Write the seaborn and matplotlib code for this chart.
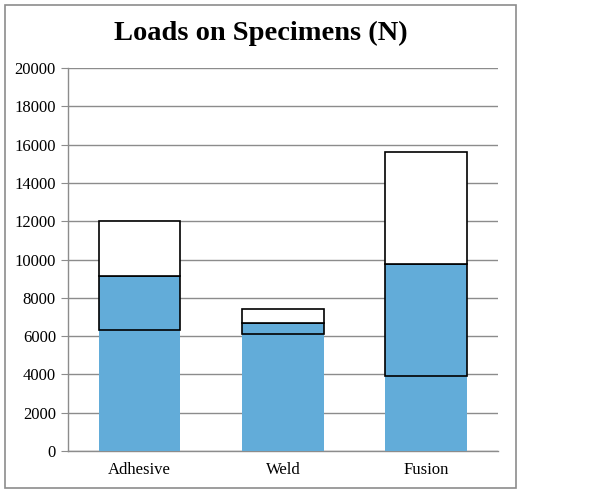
import matplotlib
matplotlib.use("Agg")
import matplotlib.pyplot as plt
import seaborn as sns
import pandas as pd
from matplotlib.patches import Rectangle

specimens = ["Adhesive", "Weld", "Fusion"]
base_load = [6300, 6100, 3900]
mid_load = [2850, 610, 5850]
top_load = [2850, 690, 5850]

df = pd.DataFrame({"Specimen": specimens, "base": base_load, "mid": mid_load, "top": top_load})
df["mid_bottom"] = df["base"]
df["top_bottom"] = df["base"] + df["mid"]

sns.set_style("white")
plt.rcParams["font.family"] = ["Liberation Serif", "DejaVu Serif"]
plt.rcParams["text.color"] = "black"
plt.rcParams["xtick.labelcolor"] = "black"
plt.rcParams["ytick.labelcolor"] = "black"

fig = plt.figure(figsize=(6, 4.93), dpi=100)
ax = fig.add_axes([0.113, 0.085, 0.717, 0.777])

blue = "#62acd9"
sns.barplot(data=df, x="Specimen", y="base", color=blue, width=0.57,
            saturation=1, linewidth=0, ax=ax, zorder=3)
sns.barplot(data=df, x="Specimen", y="mid", bottom=df["mid_bottom"], color=blue,
            width=0.57, saturation=1, edgecolor="black", linewidth=1.2, ax=ax, zorder=3)
sns.barplot(data=df, x="Specimen", y="top", bottom=df["top_bottom"], color="white",
            width=0.57, saturation=1, edgecolor="black", linewidth=1.2, ax=ax, zorder=3)

ax.set_ylim(0, 20000)
ax.set_xlim(-0.5, 2.5)
ax.set_yticks(range(0, 20001, 2000))
ax.yaxis.grid(True, color="#8c8c8c", linewidth=1)
ax.set_axisbelow(True)
ax.set_xlabel("")
ax.set_ylabel("")

for s in ["top", "right"]:
    ax.spines[s].set_visible(False)
for s in ["left", "bottom"]:
    ax.spines[s].set_color("#8c8c8c")
    ax.spines[s].set_linewidth(1)

ax.set_xticks([-0.5, 0.5, 1.5, 2.5], minor=True)
ax.tick_params(axis="x", which="major", length=0, labelsize=12, pad=8, labelcolor="black")
ax.tick_params(axis="x", which="minor", length=5, color="#8c8c8c", direction="out")
ax.tick_params(axis="y", length=5, color="#8c8c8c", direction="out", labelsize=12,
               left=True, labelcolor="black")

fig.text(0.435, 0.932, "Loads on Specimens (N)", ha="center", va="center",
         fontsize=20.5, fontweight="bold", color="black")

fig.patches.append(Rectangle((0.008, 0.01), 0.852, 0.98, transform=fig.transFigure,
                             fill=False, edgecolor="#8c8c8c", linewidth=1.2))

fig.savefig("out.png", dpi=100)
